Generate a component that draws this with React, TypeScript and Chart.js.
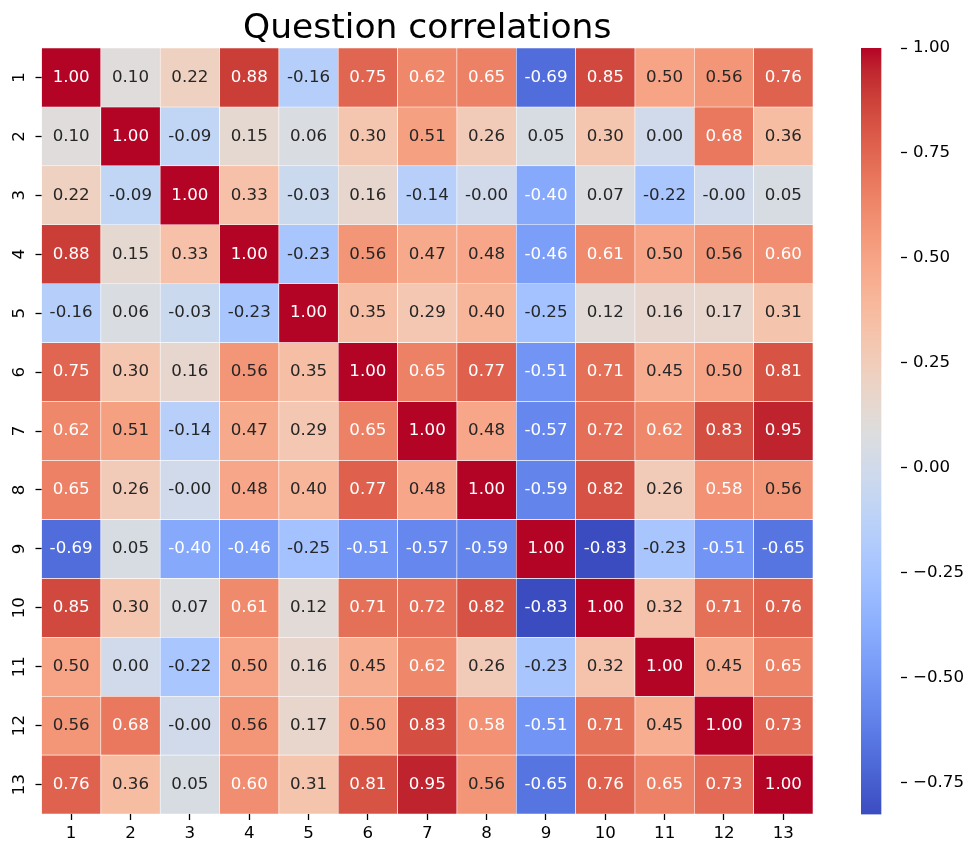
import React, { useEffect, useRef } from "react";
import { Chart, registerables } from "chart.js";

Chart.register(...registerables);

const TITLE = "Question correlations";
const ROW_LABELS = ["1", "2", "3", "4", "5", "6", "7", "8", "9", "10", "11", "12", "13"];
const COL_LABELS = ["1", "2", "3", "4", "5", "6", "7", "8", "9", "10", "11", "12", "13"];

const MATRIX: number[][] = [
  [1.0, 0.1, 0.22, 0.88, -0.16, 0.75, 0.62, 0.65, -0.69, 0.85, 0.5, 0.56, 0.76],
  [0.1, 1.0, -0.09, 0.15, 0.06, 0.3, 0.51, 0.26, 0.05, 0.3, 0.0, 0.68, 0.36],
  [0.22, -0.09, 1.0, 0.33, -0.03, 0.16, -0.14, -0.001, -0.4, 0.07, -0.22, -0.001, 0.05],
  [0.88, 0.15, 0.33, 1.0, -0.23, 0.56, 0.47, 0.48, -0.46, 0.61, 0.5, 0.56, 0.6],
  [-0.16, 0.06, -0.03, -0.23, 1.0, 0.35, 0.29, 0.4, -0.25, 0.12, 0.16, 0.17, 0.31],
  [0.75, 0.3, 0.16, 0.56, 0.35, 1.0, 0.65, 0.77, -0.51, 0.71, 0.45, 0.5, 0.81],
  [0.62, 0.51, -0.14, 0.47, 0.29, 0.65, 1.0, 0.48, -0.57, 0.72, 0.62, 0.83, 0.95],
  [0.65, 0.26, -0.001, 0.48, 0.4, 0.77, 0.48, 1.0, -0.59, 0.82, 0.26, 0.58, 0.56],
  [-0.69, 0.05, -0.4, -0.46, -0.25, -0.51, -0.57, -0.59, 1.0, -0.826, -0.23, -0.51, -0.65],
  [0.85, 0.3, 0.07, 0.61, 0.12, 0.71, 0.72, 0.82, -0.826, 1.0, 0.32, 0.71, 0.76],
  [0.5, 0.0, -0.22, 0.5, 0.16, 0.45, 0.62, 0.26, -0.23, 0.32, 1.0, 0.45, 0.65],
  [0.56, 0.68, -0.001, 0.56, 0.17, 0.5, 0.83, 0.58, -0.51, 0.71, 0.45, 1.0, 0.73],
  [0.76, 0.36, 0.05, 0.6, 0.31, 0.81, 0.95, 0.56, -0.65, 0.76, 0.65, 0.73, 1.0],
];

const VMIN = -0.826;
const VMAX = 1.0;
const CB_TICKS = [-0.75, -0.5, -0.25, 0.0, 0.25, 0.5, 0.75, 1.0];

// coolwarm colormap control points (Moreland)
const COOLWARM: number[][] = [
  [59, 76, 192], [68, 90, 204], [77, 104, 215], [87, 117, 225], [98, 130, 234],
  [108, 142, 241], [119, 154, 247], [130, 165, 251], [141, 176, 254], [152, 185, 255],
  [163, 194, 255], [174, 201, 253], [184, 208, 249], [194, 213, 244], [204, 217, 238],
  [213, 219, 230], [221, 221, 221], [229, 216, 209], [236, 211, 197], [241, 204, 184],
  [245, 196, 172], [247, 187, 160], [247, 177, 148], [247, 166, 137], [244, 154, 123],
  [241, 141, 112], [236, 127, 99], [229, 112, 88], [222, 96, 77], [213, 80, 66],
  [203, 62, 56], [192, 40, 47], [180, 4, 38],
];

const FONT = "DejaVu Sans";

function cmapRGB(t: number): number[] {
  const tt = Math.max(0, Math.min(1, t));
  const n = COOLWARM.length - 1;
  const f = tt * n;
  const i = Math.min(Math.floor(f), n - 1);
  const u = f - i;
  const a = COOLWARM[i];
  const b = COOLWARM[i + 1];
  return [0, 1, 2].map((k) => a[k] + (b[k] - a[k]) * u);
}

// 256-entry lookup like a matplotlib colormap
function lutRGB(t: number): number[] {
  const idx = Math.max(0, Math.min(255, Math.floor(t * 256)));
  return cmapRGB(idx / 255);
}

function norm(v: number): number {
  return (v - VMIN) / (VMAX - VMIN);
}

function rgbStr(c: number[]): string {
  return `rgb(${Math.round(c[0])},${Math.round(c[1])},${Math.round(c[2])})`;
}

function luminance(c: number[]): number {
  const lin = c.map((x) => {
    const s = x / 255;
    return s <= 0.03928 ? s / 12.92 : Math.pow((s + 0.055) / 1.055, 2.4);
  });
  return 0.2126 * lin[0] + 0.7152 * lin[1] + 0.0722 * lin[2];
}

const annotPlugin = {
  id: "annotPlugin",
  afterDatasetsDraw(chart: any) {
    const ctx = chart.ctx;
    ctx.save();
    ctx.font = `16.67px "${FONT}"`;
    ctx.textAlign = "center";
    ctx.textBaseline = "middle";
    chart.data.datasets.forEach((_ds: any, r: number) => {
      const meta = chart.getDatasetMeta(r);
      meta.data.forEach((el: any, c: number) => {
        const v = MATRIX[r][c];
        const col = lutRGB(norm(v));
        ctx.fillStyle = luminance(col) > 0.408 ? "#262626" : "#ffffff";
        const props = el.getProps(["x", "y", "base"], true);
        const cy = (props.y + props.base) / 2;
        ctx.fillText(v.toFixed(2), props.x, cy);
      });
    });
    ctx.restore();
  },
};

export default function App() {
  const heatRef = useRef<HTMLCanvasElement | null>(null);
  const cbRef = useRef<HTMLCanvasElement | null>(null);

  useEffect(() => {
    if (!heatRef.current || !cbRef.current) return;

    const datasets = ROW_LABELS.map((rl, r) => ({
      label: rl,
      data: MATRIX[r].map(() => 1),
      backgroundColor: MATRIX[r].map((v) => rgbStr(lutRGB(norm(v)))),
      borderColor: "#ffffff",
      borderWidth: 0.6,
      borderSkipped: false as const,
      barPercentage: 1,
      categoryPercentage: 1,
    }));

    const tickFont = { family: FONT, size: 16.67 };

    const heat = new Chart(heatRef.current, {
      type: "bar",
      data: { labels: COL_LABELS, datasets },
      options: {
        responsive: false,
        animation: false,
        events: [],
        layout: { padding: { left: 0, right: 42, top: 0, bottom: 0 } },
        plugins: {
          legend: { display: false },
          tooltip: { enabled: false },
          title: {
            display: true,
            text: TITLE,
            fullSize: false,
            color: "#000",
            font: { family: FONT, size: 34.5, weight: "normal", lineHeight: 1 },
            padding: { top: 11.5, bottom: 2 },
          },
        },
        scales: {
          x: {
            type: "category",
            stacked: true,
            offset: true,
            grid: {
              display: true,
              drawOnChartArea: false,
              drawTicks: true,
              tickLength: 6,
              tickWidth: 1.3,
              tickColor: "#000",
              offset: false,
            },
            border: { display: false },
            ticks: { color: "#000", font: tickFont, padding: 4, autoSkip: false, maxRotation: 0 },
            afterFit: (scale: any) => {
              scale.height = 31;
            },
          },
          y: {
            type: "linear",
            stacked: true,
            reverse: true,
            min: 0,
            max: ROW_LABELS.length,
            grid: {
              display: true,
              drawOnChartArea: false,
              drawTicks: true,
              tickLength: 6,
              tickWidth: 1.3,
              tickColor: "#000",
            },
            border: { display: false },
            afterBuildTicks: (scale: any) => {
              scale.ticks = ROW_LABELS.map((_l, i) => ({ value: i + 0.5 }));
            },
            ticks: {
              color: "#000",
              font: tickFont,
              padding: 5,
              autoSkip: false,
              minRotation: 90,
              maxRotation: 90,
              crossAlign: "center",
              callback: (value: any) => ROW_LABELS[Math.floor(Number(value))],
            },
            afterFit: (scale: any) => {
              scale.width = 41.5;
            },
          },
        },
      } as any,
      plugins: [annotPlugin],
    });

    const cb = new Chart(cbRef.current, {
      type: "bar",
      data: {
        labels: ["cb"],
        datasets: [
          {
            data: [[VMIN, VMAX]] as any,
            backgroundColor: (ctx: any) => {
              const chart = ctx.chart;
              const ys = chart.scales.y;
              if (!chart.chartArea || !ys) return "rgba(0,0,0,0)";
              const top = ys.getPixelForValue(VMAX);
              const bottom = ys.getPixelForValue(VMIN);
              const g = chart.ctx.createLinearGradient(0, bottom, 0, top);
              const n = COOLWARM.length - 1;
              COOLWARM.forEach((c, i) => g.addColorStop(i / n, rgbStr(c)));
              return g;
            },
            borderWidth: 0,
            barPercentage: 1,
            categoryPercentage: 1,
          },
        ],
      },
      options: {
        responsive: false,
        animation: false,
        events: [],
        layout: { padding: { left: 11, right: 0, top: 48, bottom: 30.5 } },
        plugins: { legend: { display: false }, tooltip: { enabled: false } },
        scales: {
          x: { display: false, offset: false },
          y: {
            type: "linear",
            position: "right",
            min: VMIN,
            max: VMAX,
            grid: {
              display: true,
              drawOnChartArea: false,
              drawTicks: true,
              tickLength: 6,
              tickWidth: 1.3,
              tickColor: "#000",
            },
            border: { display: false },
            afterBuildTicks: (scale: any) => {
              scale.ticks = CB_TICKS.map((v) => ({ value: v }));
            },
            ticks: {
              color: "#000",
              font: tickFont,
              padding: 6,
              autoSkip: false,
              callback: (value: any) => Number(value).toFixed(2).replace("-", "\u2212"),
            },
            afterFit: (scale: any) => {
              scale.width = 66;
            },
          },
        },
      } as any,
    });

    return () => {
      heat.destroy();
      cb.destroy();
    };
  }, []);

  return (
    <div style={{ position: "fixed", left: 0, top: 0, width: 967, height: 845, background: "#fff" }}>
      <canvas ref={heatRef} width={855} height={845} style={{ position: "absolute", left: 0, top: 0, width: 855, height: 845 }} />
      <canvas ref={cbRef} width={117} height={845} style={{ position: "absolute", left: 850, top: 0, width: 117, height: 845 }} />
    </div>
  );
}
